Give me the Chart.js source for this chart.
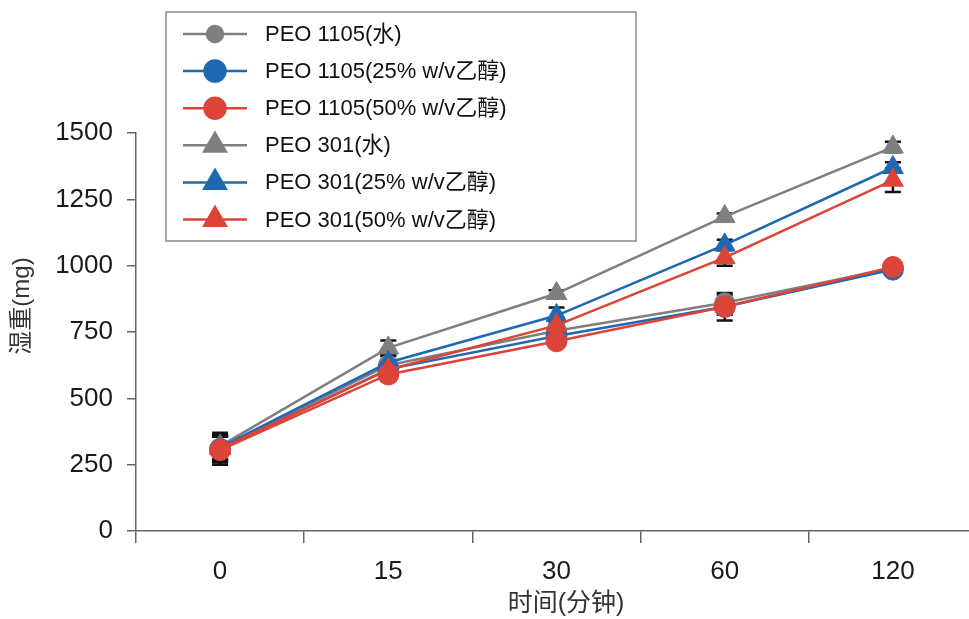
<!DOCTYPE html>
<html><head><meta charset="utf-8">
<script src="https://cdn.jsdelivr.net/npm/chart.js@4.4.0/dist/chart.umd.min.js"></script>
<style>
html,body{margin:0;padding:0;overflow:hidden;background:#fff;width:969px;height:619px}
#wrap{width:990px;height:619px;position:relative}
</style>
</head><body><div id="wrap"><canvas id="c" width="990" height="619"></canvas></div>
<script>
// ---- data ----
const categories = ['0', '15', '30', '60', '120'];
const yTicks = [0, 250, 500, 750, 1000, 1250, 1500];
const seriesNames = ['PEO 1105(水)', 'PEO 1105(25% w/v乙醇)', 'PEO 1105(50% w/v乙醇)',
                     'PEO 301(水)', 'PEO 301(25% w/v乙醇)', 'PEO 301(50% w/v乙醇)'];
const peo1105Water = [312, 625, 755, 860, 990];
const peo1105E25   = [308, 610, 735, 845, 985];
const peo1105E50   = [305, 590, 715, 845, 995];
const peo301Water  = [320, 690, 895, 1185, 1447];
const peo301E25    = [315, 635, 812, 1078, 1370];
const peo301E50    = [310, 608, 775, 1030, 1322];
const err1105Water = [50, 20, 20, 30, 15];
const err1105E25   = [50, 20, 20, 30, 15];
const err1105E50   = [55, 25, 20, 52, 15];
const err301Water  = [50, 28, 12, 12, 20];
const err301E25    = [45, 25, 30, 20, 20];
const err301E50    = [45, 25, 30, 30, 44];
const xTitle = '时间(分钟)';
const yTitle = '湿重(mg)';

// ---- style ----
const FONT = "'Liberation Sans', 'Noto Sans CJK SC', sans-serif";
const GRAY = '#7f7f7f', BLUE = '#1f68b2', RED = '#db4437';
const seriesValues = [peo1105Water, peo1105E25, peo1105E50, peo301Water, peo301E25, peo301E50];
const seriesErr = [err1105Water, err1105E25, err1105E50, err301Water, err301E25, err301E50];
const colors = [GRAY, BLUE, RED, GRAY, BLUE, RED];
const styles = ['circle', 'circle', 'circle', 'triangle', 'triangle', 'triangle'];
const radii = [10, 10.5, 10.5, 12, 12, 12];
const orders = [4, 2, 0, 5, 3, 1];
const legendRadii = [8, 10.5, 10.5, 12.5, 12.5, 12.5];

const datasets = seriesNames.map((name, i) => ({
  label: name,
  data: seriesValues[i],
  borderColor: colors[i],
  backgroundColor: colors[i],
  pointBackgroundColor: colors[i],
  pointBorderColor: colors[i],
  pointBorderWidth: 1,
  pointStyle: styles[i],
  pointRadius: radii[i],
  pointHoverRadius: radii[i],
  borderWidth: 2.5,
  tension: 0,
  order: orders[i],
  errors: seriesErr[i]
}));

const errorBars = {
  id: 'errorBars',
  beforeDatasetsDraw(chart) {
    const ctx = chart.ctx, ys = chart.scales.y;
    ctx.save();
    ctx.strokeStyle = '#111';
    ctx.lineWidth = 2.5;
    chart.data.datasets.forEach((ds, i) => {
      const meta = chart.getDatasetMeta(i);
      meta.data.forEach((pt, j) => {
        const v = ds.data[j], e = ds.errors[j];
        const yt = ys.getPixelForValue(v + e), yb = ys.getPixelForValue(v - e);
        ctx.beginPath();
        ctx.moveTo(pt.x, yt); ctx.lineTo(pt.x, yb);
        ctx.moveTo(pt.x - 8, yt); ctx.lineTo(pt.x + 8, yt);
        ctx.moveTo(pt.x - 8, yb); ctx.lineTo(pt.x + 8, yb);
        ctx.stroke();
      });
    });
    ctx.restore();
  }
};

const customText = {
  id: 'customText',
  afterDraw(chart) {
    const ctx = chart.ctx;
    ctx.save();
    // axis titles
    ctx.fillStyle = '#333';
    ctx.textAlign = 'center';
    ctx.textBaseline = 'middle';
    ctx.font = '25px ' + FONT;
    ctx.fillText(xTitle, 566, 604);
    ctx.save();
    ctx.translate(22, 306);
    ctx.rotate(-Math.PI / 2);
    ctx.font = '24px ' + FONT;
    ctx.fillText(yTitle, 0, 0);
    ctx.restore();
    // legend
    const bx = 166, by = 12, bw = 470, bh = 229;
    ctx.fillStyle = '#fff';
    ctx.fillRect(bx, by, bw, bh);
    ctx.strokeStyle = '#8a8a8a';
    ctx.lineWidth = 1.5;
    ctx.strokeRect(bx, by, bw, bh);
    chart.data.datasets.forEach((ds, i) => {
      const cy = 34 + i * 37.1;
      ctx.strokeStyle = ds.borderColor;
      ctx.lineWidth = 2.5;
      ctx.beginPath();
      ctx.moveTo(183, cy); ctx.lineTo(247, cy);
      ctx.stroke();
      ctx.fillStyle = ds.borderColor;
      Chart.helpers.drawPoint(ctx, {pointStyle: ds.pointStyle, rotation: 0, borderWidth: 1, radius: legendRadii[i]}, 215, cy);
      ctx.fillStyle = '#111';
      ctx.font = '22px ' + FONT;
      ctx.textAlign = 'left';
      ctx.textBaseline = 'middle';
      ctx.fillText(ds.label, 265, cy + 1);
    });
    ctx.restore();
  }
};

new Chart(document.getElementById('c'), {
  type: 'line',
  data: { labels: categories, datasets },
  options: {
    responsive: false,
    animation: false,
    devicePixelRatio: 1,
    layout: { padding: { top: 133, right: 11.5, left: 0, bottom: 0 } },
    plugins: { legend: { display: false }, tooltip: { enabled: false } },
    scales: {
      x: {
        type: 'category',
        offset: true,
        grid: { offset: true, drawOnChartArea: false, drawTicks: true, tickLength: 12, color: '#666', lineWidth: 1.5 },
        border: { display: true, color: '#666', width: 1.5 },
        ticks: { color: '#1a1a1a', font: { family: FONT, size: 26 }, padding: 13 },
        title: { display: false },
        afterFit(s) { s.height = 88; }
      },
      y: {
        min: 0, max: 1500,
        afterBuildTicks(s) { s.ticks = yTicks.map(v => ({ value: v })); },
        grid: { drawOnChartArea: false, drawTicks: true, tickLength: 9, color: '#666', lineWidth: 1.5 },
        border: { display: true, color: '#666', width: 1.5 },
        ticks: { color: '#1a1a1a', font: { family: FONT, size: 26 }, padding: 14, callback: v => String(v) },
        title: { display: false },
        afterFit(s) { s.width = 136; }
      }
    }
  },
  plugins: [errorBars, customText]
});
</script>
</body></html>
